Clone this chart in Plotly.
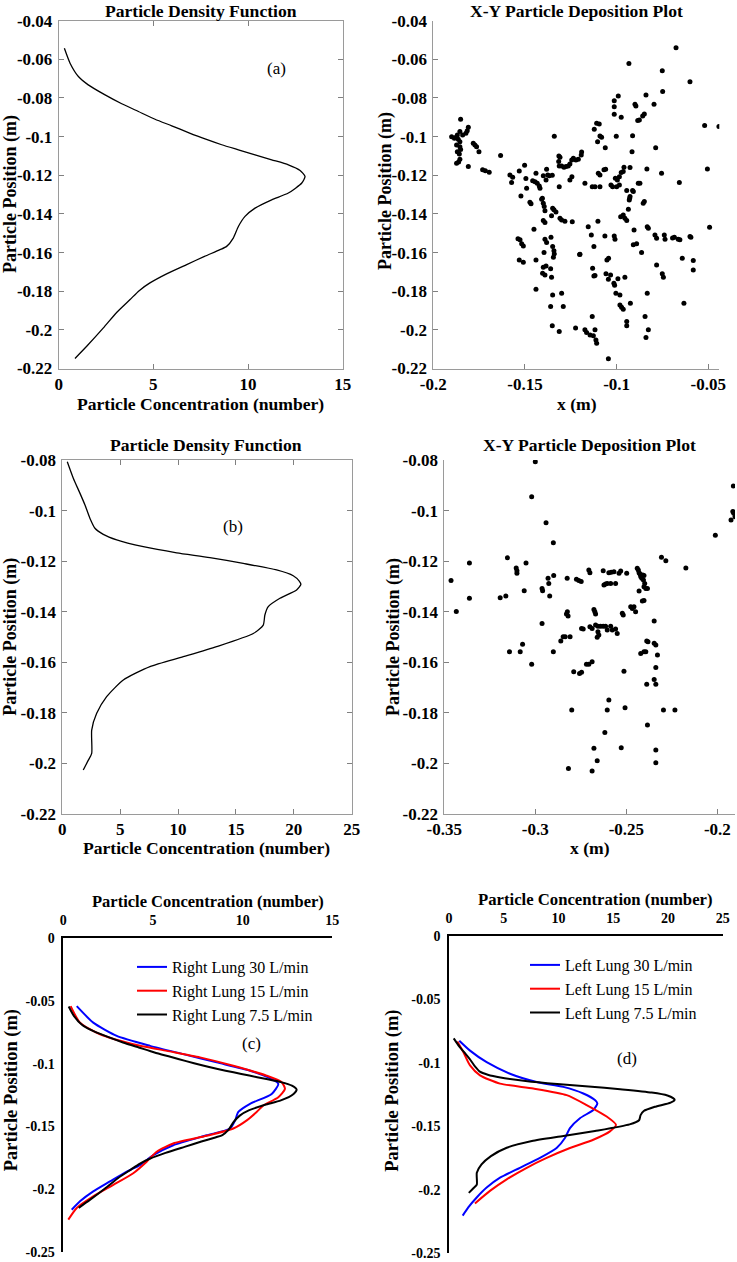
import plotly.graph_objects as go

W, H = 737, 1262
FONT = "Liberation Serif, Times New Roman, serif"

# ---------------- data ----------------
# (a) Right lung particle density (7.5 L/min)
a_conc = [0.30, 0.60, 1.04, 1.56, 2.45, 3.33, 4.21, 5.09, 5.97, 6.85, 7.73, 8.61, 9.49, 10.37, 11.25, 12.13,
          12.75, 13.01, 12.84, 12.13, 11.25, 10.37, 9.84, 9.49, 9.22, 8.87, 8.52, 7.70, 6.76, 5.70, 4.82, 4.25,
          3.77, 3.06, 2.36, 1.48, 0.86]
a_pos = [-0.0543, -0.0620, -0.0689, -0.0732, -0.0784, -0.0830, -0.0870, -0.0910, -0.0944, -0.0979, -0.1012,
         -0.1042, -0.1068, -0.1094, -0.1120, -0.1146, -0.1175, -0.1206, -0.1240, -0.1292, -0.1327, -0.1370,
         -0.1413, -0.1465, -0.1525, -0.1568, -0.1585, -0.1620, -0.1662, -0.1710, -0.1757, -0.1797, -0.1843,
         -0.1910, -0.1990, -0.2085, -0.2148]

# (b) Left lung particle density (7.5 L/min)
b_conc = [0.43, 0.95, 1.53, 1.96, 2.39, 2.82, 3.54, 4.70, 7.00, 9.88, 12.75, 15.63, 18.51, 19.95, 20.47, 20.61,
          20.24, 18.80, 17.79, 17.50, 17.36, 16.50, 13.33, 10.45, 7.57, 5.27, 3.83, 2.97, 2.54, 2.54, 2.25, 1.81]
b_pos = [-0.0807, -0.0872, -0.0932, -0.0978, -0.1031, -0.1070, -0.1094, -0.1116, -0.1143, -0.1167, -0.1186,
         -0.1209, -0.1235, -0.1258, -0.1279, -0.1292, -0.1314, -0.1347, -0.1380, -0.1413, -0.1453, -0.1486,
         -0.1538, -0.1578, -0.1617, -0.1670, -0.1736, -0.1802, -0.1868, -0.1960, -0.1987, -0.2026]

# X-Y deposition, right lung
dep_a_x = [-0.0676, -0.0933, -0.0751, -0.0600, -0.0749, -0.0991, -0.1013, -0.1013, -0.0840, -0.0796, -0.0900,
           -0.0895, -0.1013, -0.0975, -0.0849, -0.0858, -0.0876, -0.0885, -0.1109, -0.1095, -0.1122, -0.0520,
           -0.0442, -0.1340, -0.1091, -0.1082, -0.1104, -0.1062, -0.1002, -0.0913, -0.0916, -0.0787, -0.0505,
           -0.0755, -0.0835, -0.0658, -0.1633, -0.1502, -0.1531, -0.1582, -0.1567, -0.1573, -0.1495, -0.1522,
           -0.1440, -0.1458, -0.1445, -0.1433, -0.1422, -0.1418, -0.1382, -0.1376, -0.1367, -0.1400, -0.1385,
           -0.1351, -0.1315, -0.1309, -0.1316, -0.1313, -0.1300, -0.1287, -0.1276, -0.1264, -0.1255, -0.1245,
           -0.1236, -0.1222, -0.1209, -0.1193, -0.1191, -0.1244, -0.1255, -0.1313, -0.1405, -0.1173, -0.1133,
           -0.1118, -0.1091, -0.1100, -0.1091, -0.1069, -0.1060, -0.1031, -0.1022, -0.1007, -0.0996, -0.0985,
           -0.0975, -0.0964, -0.0960, -0.1000, -0.0985, -0.0927, -0.0945, -0.0913, -0.0929, -0.0882, -0.0873,
           -0.1851, -0.1809, -0.1815, -0.1822, -0.1840, -0.1855, -0.1869, -0.1876, -0.1900, -0.1885, -0.1864,
           -0.1855, -0.1873, -0.1855, -0.1851, -0.1869, -0.1858, -0.1855, -0.1862, -0.1873, -0.1809, -0.1782,
           -0.1773, -0.1764, -0.1751, -0.1731, -0.1716, -0.1695,
           -0.1491, -0.1473, -0.1467, -0.1409, -0.1400, -0.1395, -0.1391, -0.1349, -0.1342, -0.1331, -0.1355,
           -0.1309, -0.1300, -0.1282, -0.1242, -0.1400, -0.1391, -0.1451, -0.1538, -0.1527, -0.1518, -0.1509,
           -0.1391, -0.1382, -0.1358, -0.1396, -0.1349, -0.1342, -0.1340, -0.1345, -0.1202, -0.1155, -0.1138,
           -0.1124, -0.1102, -0.1053, -0.1044, -0.1064, -0.1013, -0.1009, -0.0978, -0.0964, -0.0955, -0.0945,
           -0.0936, -0.0931, -0.0927, -0.0909, -0.0905, -0.0909, -0.0891, -0.0864, -0.0855, -0.0849, -0.0833,
           -0.0827, -0.0791, -0.0782, -0.0740, -0.0736, -0.0695, -0.0685, -0.0664, -0.0655, -0.0600, -0.0595,
           -0.0493, -0.0782, -0.0751, -0.0745, -0.0642, -0.0582, -0.0582, -0.0633,
           -0.1531, -0.1509, -0.1440, -0.1400, -0.1385, -0.1404, -0.1391, -0.1360, -0.1355, -0.1440, -0.1349,
           -0.1300, -0.1360, -0.1291, -0.1351, -0.1313, -0.1224, -0.1173, -0.1164, -0.1145, -0.1127, -0.1118,
           -0.1113, -0.1109, -0.1200, -0.1131, -0.1124, -0.1118, -0.1133, -0.1058, -0.1045, -0.1033, -0.1015,
           -0.1011, -0.0993, -0.1004, -0.0982, -0.0982, -0.0973, -0.0964, -0.0955, -0.0945, -0.0945, -0.0925,
           -0.0845, -0.0833, -0.0827, -0.0840, -0.1045]
dep_a_y = [-0.0540, -0.0621, -0.0659, -0.0716, -0.0766, -0.0790, -0.0814, -0.0845, -0.0784, -0.0833, -0.0833,
           -0.0841, -0.0884, -0.0900, -0.0883, -0.0893, -0.0914, -0.0917, -0.0931, -0.0934, -0.0962, -0.0943,
           -0.0947, -0.0998, -0.0997, -0.1003, -0.1026, -0.1057, -0.0998, -0.0995, -0.1078, -0.1057, -0.1167,
           -0.1190, -0.1167, -0.1238, -0.1098, -0.1148, -0.1178, -0.1198, -0.1210, -0.1238, -0.1217, -0.1307,
           -0.1190, -0.1228, -0.1233, -0.1241, -0.1255, -0.1267, -0.1169, -0.1198, -0.1203, -0.1203, -0.1224,
           -0.1200, -0.1100, -0.1107, -0.1129, -0.1152, -0.1152, -0.1159, -0.1155, -0.1152, -0.1141, -0.1121,
           -0.1112, -0.1121, -0.1117, -0.1095, -0.1079, -0.1207, -0.1224, -0.1259, -0.1319, -0.1241, -0.1259,
           -0.1259, -0.1259, -0.1190, -0.1198, -0.1172, -0.1169, -0.1250, -0.1259, -0.1216, -0.1224, -0.1207,
           -0.1186, -0.1181, -0.1159, -0.1259, -0.1250, -0.1160, -0.1279, -0.1279, -0.1319, -0.1241, -0.1241,
           -0.0910, -0.0952, -0.0969, -0.0983, -0.0991, -0.0974, -0.0991, -0.1003, -0.1000, -0.1009, -0.1014,
           -0.1026, -0.1043, -0.1052, -0.1066, -0.1078, -0.1090, -0.1117, -0.1131, -0.1138, -0.1155, -0.1034,
           -0.1043, -0.1052, -0.1078, -0.1172, -0.1176, -0.1184,
           -0.1267, -0.1340, -0.1348, -0.1324, -0.1345, -0.1362, -0.1383, -0.1371, -0.1379, -0.1390, -0.1410,
           -0.1422, -0.1431, -0.1438, -0.1440, -0.1434, -0.1445, -0.1479, -0.1529, -0.1534, -0.1555, -0.1566,
           -0.1531, -0.1548, -0.1521, -0.1600, -0.1569, -0.1590, -0.1607, -0.1624, -0.1610, -0.1466, -0.1509,
           -0.1569, -0.1438, -0.1638, -0.1629, -0.1514, -0.1514, -0.1531, -0.1414, -0.1405, -0.1422, -0.1434,
           -0.1376, -0.1328, -0.1310, -0.1284, -0.1483, -0.1560, -0.1555, -0.1600, -0.1345, -0.1336, -0.1466,
           -0.1474, -0.1509, -0.1526, -0.1509, -0.1531, -0.1524, -0.1521, -0.1531, -0.1534, -0.1517, -0.1521,
           -0.1469, -0.1664, -0.1710, -0.1728, -0.1629, -0.1641, -0.1690, -0.1862,
           -0.1638, -0.1650, -0.1638, -0.1676, -0.1669, -0.1707, -0.1716, -0.1684, -0.1728, -0.1790, -0.1819,
           -0.1810, -0.1879, -0.1879, -0.1979, -0.2009, -0.1991, -0.2000, -0.2014, -0.2026, -0.2031, -0.2000,
           -0.2052, -0.2069, -0.1609, -0.1681, -0.1721, -0.1719, -0.1931, -0.1710, -0.1738, -0.1716, -0.1759,
           -0.1769, -0.1736, -0.1810, -0.1819, -0.1871, -0.1883, -0.1893, -0.1728, -0.1957, -0.1979, -0.1862,
           -0.1931, -0.1810, -0.2000, -0.2040, -0.2150]

# X-Y deposition, left lung
dep_b_x = [-0.3000, -0.3020, -0.2941, -0.2901, -0.3153, -0.3051, -0.3362, -0.3105, -0.3101, -0.3101, -0.3463,
           -0.3362, -0.3434, -0.3193, -0.3162, -0.3061, -0.2963, -0.2960, -0.2930, -0.2926, -0.2921, -0.2899,
           -0.2963, -0.3142, -0.3083, -0.3070, -0.3020, -0.2901, -0.2860, -0.2847, -0.2836, -0.2809, -0.2829,
           -0.2824, -0.2820, -0.2825, -0.2774, -0.2761, -0.2748, -0.2706, -0.2700, -0.2678, -0.2673, -0.2669,
           -0.2700, -0.2688, -0.2669, -0.2656, -0.2642, -0.2627, -0.2614, -0.2605, -0.2656, -0.2651, -0.2660,
           -0.2746, -0.2737, -0.2688, -0.2706, -0.2719, -0.2757, -0.2746, -0.2789, -0.2800, -0.2605, -0.2596,
           -0.2618, -0.2678, -0.2660, -0.2818, -0.2688, -0.2627, -0.2623, -0.2614, -0.2605, -0.2596, -0.2586,
           -0.2583, -0.2568, -0.2559, -0.2540, -0.2531, -0.2498, -0.2586, -0.2577, -0.2559, -0.2550, -0.2517,
           -0.2522, -0.2513, -0.2507, -0.2528, -0.2476, -0.2467, -0.2458, -0.2449, -0.2440, -0.2434, -0.2430,
           -0.2425, -0.2421, -0.2415, -0.2410, -0.2403, -0.2406, -0.2399, -0.2430, -0.2403, -0.2393, -0.2384,
           -0.2412, -0.2403, -0.2421, -0.2403, -0.2393, -0.2388, -0.2381, -0.2388, -0.2384, -0.2347, -0.2347,
           -0.2338, -0.2329, -0.2338, -0.2347, -0.2338, -0.2338, -0.2338, -0.2307, -0.2283, -0.2296, -0.2233,
           -0.2173, -0.2011, -0.1925, -0.1915, -0.1910, -0.1903, -0.1912]
dep_b_y = [-0.0807, -0.0945, -0.1048, -0.1127, -0.1187, -0.1207, -0.1207, -0.1227, -0.1238, -0.1248, -0.1277,
           -0.1347, -0.1399, -0.1345, -0.1338, -0.1317, -0.1308, -0.1317, -0.1268, -0.1288, -0.1338, -0.1257,
           -0.1447, -0.1558, -0.1558, -0.1529, -0.1608, -0.1558, -0.1516, -0.1499, -0.1499, -0.1499, -0.1409,
           -0.1400, -0.1417, -0.1268, -0.1272, -0.1277, -0.1281, -0.1235, -0.1246, -0.1391, -0.1400, -0.1409,
           -0.1459, -0.1466, -0.1453, -0.1457, -0.1457, -0.1457, -0.1457, -0.1472, -0.1479, -0.1492, -0.1501,
           -0.1466, -0.1468, -0.1598, -0.1608, -0.1608, -0.1644, -0.1639, -0.1637, -0.1789, -0.1789, -0.1749,
           -0.1878, -0.1940, -0.1989, -0.2020, -0.2030, -0.1238, -0.1294, -0.1290, -0.1288, -0.1246, -0.1288,
           -0.1244, -0.1242, -0.1288, -0.1248, -0.1239, -0.1248, -0.1457, -0.1472, -0.1468, -0.1486, -0.1413,
           -0.1406, -0.1635, -0.1780, -0.1938, -0.1380, -0.1387, -0.1380, -0.1400, -0.1228, -0.1235, -0.1246,
           -0.1251, -0.1261, -0.1268, -0.1255, -0.1257, -0.1275, -0.1288, -0.1318, -0.1301, -0.1308, -0.1308,
           -0.1358, -0.1356, -0.1565, -0.1558, -0.1558, -0.1516, -0.1519, -0.1687, -0.1848, -0.1437, -0.1525,
           -0.1532, -0.1571, -0.1621, -0.1668, -0.1687, -0.1947, -0.1997, -0.1185, -0.1198, -0.1789, -0.1789,
           -0.1227, -0.1098, -0.1037, -0.1004, -0.1011, -0.1024, -0.0903]

# (c) Right lung, three flow rates (7.5 L/min = panel a)
c30_conc = [0.75, 1.67, 2.98, 4.84, 6.69, 8.55, 10.41, 11.53, 11.99, 11.62, 10.41, 9.76, 9.58, 9.30, 8.00,
            6.13, 5.02, 4.28, 3.54, 2.60, 1.67, 0.93, 0.47]
c30_pos = [-0.0541, -0.0672, -0.0778, -0.0857, -0.0923, -0.0989, -0.1055, -0.1116, -0.1160, -0.1240, -0.1319,
           -0.1384, -0.1451, -0.1516, -0.1570, -0.1649, -0.1728, -0.1807, -0.1859, -0.1938, -0.2017, -0.2096,
           -0.2163]
c15_conc = [0.41, 0.93, 2.05, 3.90, 5.77, 7.62, 9.48, 11.34, 12.18, 12.36, 11.99, 11.15, 10.78, 10.23, 9.48,
            8.00, 6.13, 5.21, 4.65, 3.90, 2.79, 1.67, 0.75, 0.28]
c15_pos = [-0.0541, -0.0672, -0.0765, -0.0844, -0.0897, -0.0949, -0.1016, -0.1095, -0.1147, -0.1200, -0.1266,
           -0.1332, -0.1384, -0.1451, -0.1516, -0.1574, -0.1635, -0.1701, -0.1780, -0.1872, -0.1965, -0.2057,
           -0.2149, -0.2242]

# (d) Left lung, three flow rates (7.5 L/min = panel b)
d30_conc = [0.94, 1.92, 3.44, 5.57, 8.01, 10.44, 12.27, 13.33, 13.55, 13.18, 11.96, 11.05, 10.59, 9.83, 8.31,
            6.48, 4.66, 3.44, 2.53, 1.76, 1.25]
d30_pos = [-0.0826, -0.0904, -0.0995, -0.1086, -0.1151, -0.1190, -0.1242, -0.1294, -0.1320, -0.1372, -0.1437,
           -0.1515, -0.1593, -0.1672, -0.1750, -0.1828, -0.1906, -0.1984, -0.2062, -0.2140, -0.2205]
d15_conc = [0.76, 1.31, 1.92, 2.83, 4.66, 7.70, 10.75, 12.57, 14.40, 15.25, 14.70, 13.18, 11.05, 8.92, 7.10,
            5.27, 3.74, 2.37]
d15_pos = [-0.0833, -0.0916, -0.1021, -0.1099, -0.1164, -0.1203, -0.1255, -0.1333, -0.1424, -0.1489, -0.1541,
           -0.1607, -0.1672, -0.1750, -0.1828, -0.1919, -0.2010, -0.2109]

c_names = ["Right Lung 30 L/min", "Right Lung 15 L/min", "Right Lung 7.5 L/min"]
d_names = ["Left Lung 30 L/min", "Left Lung 15 L/min", "Left Lung 7.5 L/min"]
flow_colors = ["#0000ff", "#ff0000", "#000000"]

ytick_a = [-0.04, -0.06, -0.08, -0.1, -0.12, -0.14, -0.16, -0.18, -0.2, -0.22]
ytick_b = [-0.08, -0.1, -0.12, -0.14, -0.16, -0.18, -0.2, -0.22]
ytick_cd = [0, -0.05, -0.1, -0.15, -0.2, -0.25]


def fx(px):
    return px / W


def fy(py):
    return 1 - py / H


def lab(v):
    s = ("%.2f" % v).rstrip("0").rstrip(".")
    return "0" if s in ("-0", "0") else s


fig = go.Figure()

line_kw = dict(shape="spline", smoothing=0.6)
fig.add_trace(go.Scatter(x=a_conc, y=a_pos, mode="lines", line=dict(color="black", width=1.3, **line_kw),
                         xaxis="x", yaxis="y", showlegend=False))
fig.add_trace(go.Scatter(x=dep_a_x, y=dep_a_y, mode="markers", marker=dict(color="black", size=5),
                         xaxis="x2", yaxis="y2", showlegend=False))
fig.add_trace(go.Scatter(x=b_conc, y=b_pos, mode="lines", line=dict(color="black", width=1.3, **line_kw),
                         xaxis="x3", yaxis="y3", showlegend=False))
fig.add_trace(go.Scatter(x=dep_b_x, y=dep_b_y, mode="markers", marker=dict(color="black", size=5),
                         xaxis="x4", yaxis="y4", showlegend=False))

for name, xs, ys, col in zip(c_names, [c30_conc, c15_conc, a_conc], [c30_pos, c15_pos, a_pos], flow_colors):
    fig.add_trace(go.Scatter(x=xs, y=ys, mode="lines", name=name, line=dict(color=col, width=2, **line_kw),
                             xaxis="x5", yaxis="y5", legend="legend"))
for name, xs, ys, col in zip(d_names, [d30_conc, d15_conc, b_conc], [d30_pos, d15_pos, b_pos], flow_colors):
    fig.add_trace(go.Scatter(x=xs, y=ys, mode="lines", name=name, line=dict(color=col, width=2, **line_kw),
                             xaxis="x6", yaxis="y6", legend="legend2"))

big_tick = dict(family=FONT, size=17, color="black", weight="bold")
small_tick = dict(family=FONT, size=14, color="black", weight="bold")


def box_axis(domain, rng, tickvals, anchor, mirror=True, text=None, standoff=2):
    d = dict(domain=domain, range=rng, tickvals=tickvals, ticktext=text or [lab(v) for v in tickvals],
             ticks="inside", ticklen=5, tickcolor="#808080", showline=True, linecolor="#9a9a9a", linewidth=1,
             showgrid=False, zeroline=False, tickfont=big_tick, anchor=anchor, ticklabelstandoff=standoff,
             automargin=False)
    if mirror:
        d["mirror"] = "allticks"
    return d


layout = dict(
    width=W, height=H, margin=dict(l=0, r=0, t=0, b=0, autoexpand=False),
    paper_bgcolor="white", plot_bgcolor="white", showlegend=True,
    xaxis=box_axis([fx(58.7), fx(342.7)], [0, 15], [0, 5, 10, 15], "y", text=["0", "5", "10", "15"], standoff=0),
    yaxis=box_axis([fy(368.5), fy(20.7)], [-0.22, -0.04], ytick_a, "x"),
    xaxis2=box_axis([fx(433.3), fx(719.3)], [-0.2, -0.044], [-0.2, -0.15, -0.1, -0.05], "y2", mirror=False,
                    standoff=0),
    yaxis2=box_axis([fy(368.5), fy(20.7)], [-0.22, -0.04], ytick_a, "x2", mirror=False),
    xaxis3=box_axis([fx(62.3), fx(351.7)], [0, 25], [0, 5, 10, 15, 20, 25], "y3",
                    text=["0", "5", "10", "15", "20", "25"], standoff=0),
    yaxis3=box_axis([fy(814), fy(460)], [-0.22, -0.08], ytick_b, "x3"),
    xaxis4=box_axis([fx(444.3), fx(735)], [-0.35, -0.1903], [-0.35, -0.3, -0.25, -0.2], "y4", mirror=False,
                    standoff=0),
    yaxis4=box_axis([fy(814), fy(460)], [-0.22, -0.08], ytick_b, "x4", mirror=False),
)


def excel_x(domain, rng, tickvals, anchor):
    return dict(domain=domain, range=rng, tickvals=tickvals, ticktext=[str(v) for v in tickvals], side="top",
                ticks="", showline=True, linecolor="black", linewidth=1.5, showgrid=False, zeroline=False,
                tickfont=small_tick, anchor=anchor, ticklabelstandoff=6, automargin=False)


def excel_y(domain, anchor):
    return dict(domain=domain, range=[-0.25, 0], tickvals=ytick_cd, ticktext=[lab(v) for v in ytick_cd],
                ticks="", showline=True, linecolor="black", linewidth=1.5, showgrid=False, zeroline=False,
                tickfont=small_tick, anchor=anchor, ticklabelstandoff=4, automargin=False)


layout["xaxis5"] = excel_x([fx(63.3), fx(332.3)], [0, 15], [0, 5, 10, 15], "y5")
layout["yaxis5"] = excel_y([fy(1252), fy(938.3)], "x5")
layout["xaxis6"] = excel_x([fx(449), fx(722.7)], [0, 25], [0, 5, 10, 15, 20, 25], "y6")
layout["yaxis6"] = excel_y([fy(1253), fy(936)], "x6")

leg_font = dict(family=FONT, size=16, color="black")
layout["legend"] = dict(x=fx(132), y=fy(950), xanchor="left", yanchor="top", font=leg_font,
                        bgcolor="rgba(0,0,0,0)", itemwidth=30, tracegroupgap=0)
layout["legend2"] = dict(x=fx(525), y=fy(948), xanchor="left", yanchor="top", font=leg_font,
                         bgcolor="rgba(0,0,0,0)", itemwidth=30, tracegroupgap=0)

fig.update_layout(**layout)

annos = [
    ("Particle Density Function", 200.7, 11, 17.6, True, 0),
    ("X-Y Particle Deposition Plot", 576.7, 11, 17.6, True, 0),
    ("(a)", 276.7, 68.3, 17, False, 0),
    ("Particle Position (m)", 11, 194, 18, True, -90),
    ("Particle Concentration (number)", 200.5, 404, 17.6, True, 0),
    ("Particle Position (m)", 385, 191, 18, True, -90),
    ("x (m)", 576.7, 404, 17.6, True, 0),
    ("Particle Density Function", 206.3, 445, 17.6, True, 0),
    ("X-Y Particle Deposition Plot", 589, 445, 17.6, True, 0),
    ("(b)", 233.3, 526.7, 17, False, 0),
    ("Particle Position (m)", 11, 636.7, 18, True, -90),
    ("Particle Concentration (number)", 206, 848, 17.6, True, 0),
    ("Particle Position (m)", 393.3, 636.7, 18, True, -90),
    ("x (m)", 590, 848, 17.6, True, 0),
    ("Particle Concentration (number)", 207.5, 901.7, 16.5, True, 0),
    ("(c)", 251.7, 1043.3, 17, False, 0),
    ("Particle Position (m)", 11.5, 1090.8, 18.5, True, -90),
    ("Particle Concentration (number)", 595.8, 899.3, 16.7, True, 0),
    ("(d)", 626.7, 1058.3, 17, False, 0),
    ("Particle Position (m)", 393, 1090.8, 18.5, True, -90),
]
for text, x, y, size, bold, ang in annos:
    fig.add_annotation(text=text, x=fx(x), y=fy(y), xref="paper", yref="paper", showarrow=False,
                       xanchor="center", yanchor="middle", textangle=ang,
                       font=dict(family=FONT, size=size, color="black", weight="bold" if bold else "normal"))

fig.write_html("out.html", config={"displayModeBar": False},
               post_script="document.body.style.margin='0';")
